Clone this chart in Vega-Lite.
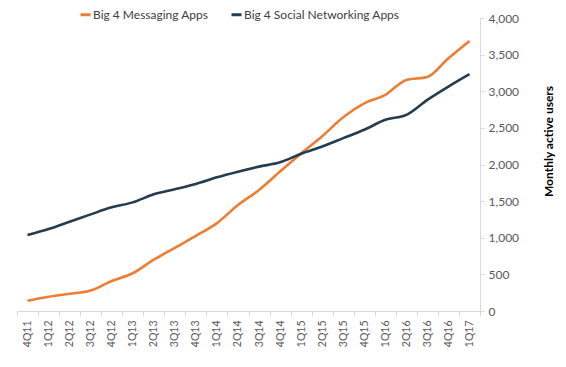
{
  "$schema": "https://vega.github.io/schema/vega-lite/v6.json",
  "width": 463,
  "height": 293,
  "autosize": {"type": "none"},
  "padding": {"left": 17, "top": 18, "right": 86, "bottom": 56},
  "background": "white",
  "config": {
    "font": "Lato",
    "view": {"stroke": null}
  },
  "data": {
    "values": [
      {"q": "4Q11", "series": "Big 4 Messaging Apps", "value": 140},
      {"q": "1Q12", "series": "Big 4 Messaging Apps", "value": 195},
      {"q": "2Q12", "series": "Big 4 Messaging Apps", "value": 235},
      {"q": "3Q12", "series": "Big 4 Messaging Apps", "value": 280},
      {"q": "4Q12", "series": "Big 4 Messaging Apps", "value": 410},
      {"q": "1Q13", "series": "Big 4 Messaging Apps", "value": 515},
      {"q": "2Q13", "series": "Big 4 Messaging Apps", "value": 700},
      {"q": "3Q13", "series": "Big 4 Messaging Apps", "value": 862},
      {"q": "4Q13", "series": "Big 4 Messaging Apps", "value": 1025},
      {"q": "1Q14", "series": "Big 4 Messaging Apps", "value": 1200},
      {"q": "2Q14", "series": "Big 4 Messaging Apps", "value": 1447},
      {"q": "3Q14", "series": "Big 4 Messaging Apps", "value": 1652},
      {"q": "4Q14", "series": "Big 4 Messaging Apps", "value": 1904},
      {"q": "1Q15", "series": "Big 4 Messaging Apps", "value": 2150},
      {"q": "2Q15", "series": "Big 4 Messaging Apps", "value": 2385},
      {"q": "3Q15", "series": "Big 4 Messaging Apps", "value": 2645},
      {"q": "4Q15", "series": "Big 4 Messaging Apps", "value": 2835},
      {"q": "1Q16", "series": "Big 4 Messaging Apps", "value": 2950},
      {"q": "2Q16", "series": "Big 4 Messaging Apps", "value": 3155},
      {"q": "3Q16", "series": "Big 4 Messaging Apps", "value": 3195},
      {"q": "4Q16", "series": "Big 4 Messaging Apps", "value": 3450},
      {"q": "1Q17", "series": "Big 4 Messaging Apps", "value": 3687},
      {"q": "4Q11", "series": "Big 4 Social Networking Apps", "value": 1037},
      {"q": "1Q12", "series": "Big 4 Social Networking Apps", "value": 1119},
      {"q": "2Q12", "series": "Big 4 Social Networking Apps", "value": 1219},
      {"q": "3Q12", "series": "Big 4 Social Networking Apps", "value": 1319},
      {"q": "4Q12", "series": "Big 4 Social Networking Apps", "value": 1415},
      {"q": "1Q13", "series": "Big 4 Social Networking Apps", "value": 1483},
      {"q": "2Q13", "series": "Big 4 Social Networking Apps", "value": 1593},
      {"q": "3Q13", "series": "Big 4 Social Networking Apps", "value": 1661},
      {"q": "4Q13", "series": "Big 4 Social Networking Apps", "value": 1734},
      {"q": "1Q14", "series": "Big 4 Social Networking Apps", "value": 1825},
      {"q": "2Q14", "series": "Big 4 Social Networking Apps", "value": 1902},
      {"q": "3Q14", "series": "Big 4 Social Networking Apps", "value": 1971},
      {"q": "4Q14", "series": "Big 4 Social Networking Apps", "value": 2030},
      {"q": "1Q15", "series": "Big 4 Social Networking Apps", "value": 2147},
      {"q": "2Q15", "series": "Big 4 Social Networking Apps", "value": 2246},
      {"q": "3Q15", "series": "Big 4 Social Networking Apps", "value": 2360},
      {"q": "4Q15", "series": "Big 4 Social Networking Apps", "value": 2474},
      {"q": "1Q16", "series": "Big 4 Social Networking Apps", "value": 2610},
      {"q": "2Q16", "series": "Big 4 Social Networking Apps", "value": 2678},
      {"q": "3Q16", "series": "Big 4 Social Networking Apps", "value": 2883},
      {"q": "4Q16", "series": "Big 4 Social Networking Apps", "value": 3064},
      {"q": "1Q17", "series": "Big 4 Social Networking Apps", "value": 3233}
    ]
  },
  "mark": {"type": "line", "strokeWidth": 2.6, "interpolate": "monotone"},
  "encoding": {
    "x": {
      "field": "q",
      "type": "ordinal",
      "sort": null,
      "scale": {"type": "band", "paddingInner": 0, "paddingOuter": 0},
      "axis": {
        "title": null,
        "labelAngle": -90,
        "labelFontSize": 10.5,
        "labelColor": "#595959",
        "labelPadding": 4,
        "domainColor": "#d9d9d9",
        "tickColor": "#d9d9d9",
        "tickSize": 5,
        "tickBand": "extent"
      }
    },
    "y": {
      "field": "value",
      "type": "quantitative",
      "scale": {"domain": [0, 4000], "nice": false},
      "axis": {
        "orient": "right",
        "values": [0, 500, 1000, 1500, 2000, 2500, 3000, 3500, 4000],
        "format": ",.0f",
        "grid": false,
        "labelFontSize": 12,
        "labelColor": "#595959",
        "labelPadding": 4,
        "domainColor": "#d9d9d9",
        "tickColor": "#d9d9d9",
        "tickSize": 4,
        "title": "Monthly active users",
        "titleFontSize": 12,
        "titleFontWeight": "bold",
        "titleColor": "#000000",
        "titleAngle": 270,
        "titleAlign": "center",
        "titleBaseline": "middle",
        "titleX": 68,
        "titleY": 123
      }
    },
    "color": {
      "field": "series",
      "type": "nominal",
      "scale": {
        "domain": ["Big 4 Messaging Apps", "Big 4 Social Networking Apps"],
        "range": ["#ED7D31", "#243C50"]
      },
      "legend": {
        "title": null,
        "orient": "none",
        "direction": "horizontal",
        "legendX": 62,
        "legendY": -10,
        "symbolType": "stroke",
        "symbolSize": 100,
        "symbolStrokeWidth": 3,
        "labelFontSize": 12,
        "labelColor": "#404040",
        "labelOffset": 1,
        "columnPadding": 16
      }
    }
  }
}
